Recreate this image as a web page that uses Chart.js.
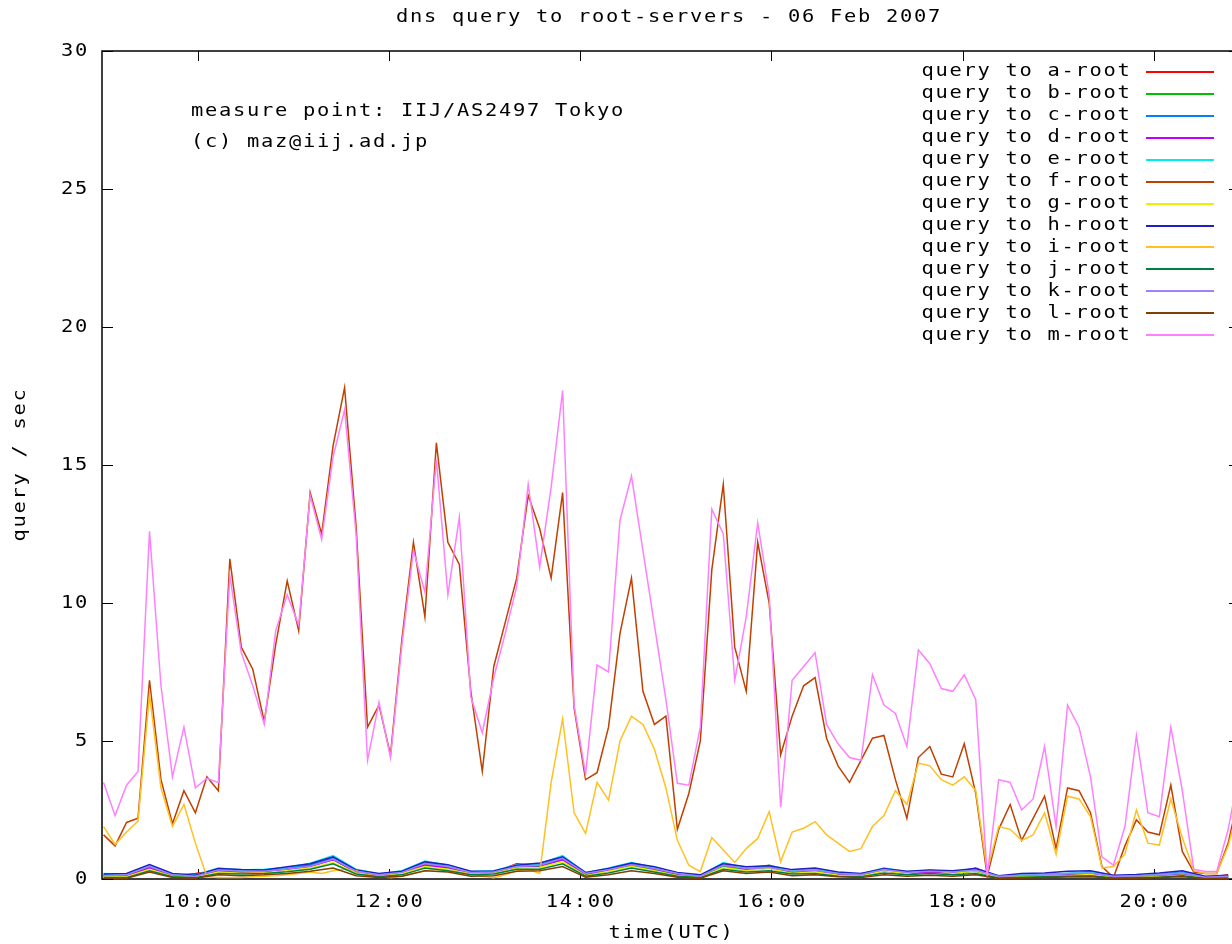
<!DOCTYPE html>
<html>
<head>
<meta charset="utf-8">
<title>dns query to root-servers</title>
<script src="https://cdn.jsdelivr.net/npm/chart.js@4"></script>
<style>
  html, body { margin: 0; padding: 0; background: #fff; overflow: hidden; }
  canvas { display: block; }
</style>
</head>
<body>
<canvas id="chart" width="1244" height="944"></canvas>
<script>
// time axis is in minutes after 00:00 UTC
const fineStart = 541;     // first sample ~09:01
const fineStep = 7.2;      // 100 samples over the day window
const coarseStep = 14.4;   // small series read every other sample

const timeTickMinutes = [600, 720, 840, 960, 1080, 1200];
const timeTickLabels = ["10:00", "12:00", "14:00", "16:00", "18:00", "20:00"];
const rateTicks = [0, 5, 10, 15, 20, 25, 30];

// the three busy servers, one value per 7.2 min sample
const mRoot = [
  3.5, 2.3, 3.4, 3.9, 12.6, 7.0, 3.7, 5.5, 3.3, 3.65,
  3.5, 11.0, 8.2, 7.0, 5.6, 9.0, 10.3, 9.2, 13.9, 12.3,
  15.3, 17.0, 12.5, 4.3, 6.4, 4.4, 8.5, 11.9, 10.4, 15.2,
  10.3, 13.1, 6.6, 5.3, 7.3, 8.9, 10.6, 14.3, 11.3, 14.2,
  17.7, 6.3, 3.8, 7.75, 7.5, 13.0, 14.6, 11.9, 9.2, 6.5,
  3.47, 3.4, 5.5, 13.4, 12.5, 7.2, 9.5, 12.9, 10.3, 2.6,
  7.2, 7.7, 8.2, 5.6, 4.9, 4.4, 4.3, 7.4, 6.3, 6.0,
  4.8, 8.3, 7.8, 6.9, 6.8, 7.4, 6.5, 0.1, 3.6, 3.5,
  2.5, 2.9, 4.8, 1.9, 6.3, 5.5, 3.7, 0.8, 0.5, 1.9,
  5.2, 2.4, 2.26, 5.5, 3.2, 0.35, 0.27, 0.27, 1.8, 4.0
];
const fRoot = [
  1.6, 1.2, 2.05, 2.2, 7.2, 3.6, 2.0, 3.2, 2.4, 3.7,
  3.2, 11.6, 8.4, 7.6, 5.7, 8.5, 10.8, 9.0, 14.0, 12.5,
  15.7, 17.8, 12.8, 5.5, 6.3, 4.5, 8.7, 12.2, 9.5, 15.8,
  12.2, 11.4, 6.8, 3.9, 7.7, 9.3, 10.9, 13.9, 12.7, 10.9,
  14.0, 6.2, 3.6, 3.85, 5.5, 8.9, 10.9, 6.8, 5.6, 5.9,
  1.8, 3.1, 5.0, 11.2, 14.3, 8.4, 6.8, 12.2, 10.0, 4.5,
  5.9, 7.0, 7.3, 5.1, 4.1, 3.5, 4.3, 5.1, 5.2, 3.6,
  2.2, 4.4, 4.8, 3.8, 3.7, 4.9, 3.1, 0.1, 1.8, 2.7,
  1.4, 2.2, 3.0, 1.1, 3.3, 3.2, 2.4, 0.45, 0.05, 1.2,
  2.14, 1.7, 1.6, 3.4, 1.0, 0.25, 0.2, 0.2, 1.3, 3.2
];
const iRoot = [
  1.9, 1.25, 1.7, 2.1, 6.7, 3.3, 1.9, 2.7, 1.3, 0.08,
  0.05, 0.05, 0.05, 0.08, 0.1, 0.12, 0.15, 0.2, 0.25, 0.2,
  0.3, 0.35, 0.3, 0.15, 0.1, 0.05, 0.1, 0.2, 0.3, 0.35,
  0.3, 0.25, 0.2, 0.1, 0.05, 0.15, 0.3, 0.35, 0.2, 3.5,
  5.8, 2.4, 1.65, 3.5, 2.86, 5.0, 5.9, 5.6, 4.7, 3.3,
  1.4, 0.5, 0.27, 1.5, 1.05, 0.6, 1.1, 1.47, 2.44, 0.63,
  1.7, 1.84, 2.08, 1.6, 1.3, 1.0, 1.1, 1.9, 2.3, 3.2,
  2.7, 4.2, 4.1, 3.6, 3.4, 3.7, 3.2, 0.3, 1.9, 1.8,
  1.4, 1.6, 2.4, 0.9, 3.0, 2.9, 2.26, 0.4, 0.45, 0.9,
  2.5, 1.3, 1.23, 2.9, 1.5, 0.3, 0.2, 0.2, 1.2, 2.8
];

// the quiet servers, one value per 14.4 min
const aRoot = [0.12,0.1,0.42,0.12,0.2,0.3,0.25,0.26,0.38,0.55,0.72,0.25,0.12,0.22,0.52,0.4,0.2,0.25,0.55,0.5,0.72,0.16,0.3,0.5,0.35,0.16,0.08,0.5,0.35,0.5,0.25,0.3,0.16,0.14,0.3,0.2,0.25,0.22,0.3,0.06,0.1,0.12,0.15,0.2,0.06,0.08,0.1,0.18,0.04,0.15];
const bRoot = [0.1,0.08,0.4,0.12,0.08,0.28,0.25,0.3,0.4,0.5,0.7,0.25,0.12,0.2,0.5,0.4,0.22,0.22,0.42,0.45,0.7,0.15,0.3,0.5,0.32,0.15,0.12,0.45,0.32,0.4,0.24,0.28,0.15,0.12,0.3,0.22,0.3,0.22,0.28,0.06,0.1,0.12,0.14,0.18,0.06,0.08,0.1,0.15,0.04,0.06];
const cRoot = [0.15,0.18,0.48,0.17,0.12,0.36,0.3,0.3,0.4,0.5,0.78,0.3,0.17,0.26,0.58,0.48,0.26,0.27,0.48,0.52,0.78,0.2,0.36,0.55,0.4,0.2,0.12,0.55,0.42,0.45,0.3,0.34,0.2,0.17,0.36,0.25,0.3,0.25,0.33,0.1,0.15,0.16,0.2,0.25,0.1,0.12,0.16,0.25,0.07,0.1];
const dRoot = [0.1,0.12,0.4,0.14,0.1,0.3,0.26,0.28,0.35,0.45,0.7,0.26,0.14,0.22,0.5,0.42,0.22,0.24,0.45,0.48,0.7,0.18,0.32,0.55,0.36,0.18,0.1,0.52,0.36,0.46,0.26,0.3,0.18,0.2,0.32,0.22,0.26,0.24,0.4,0.08,0.12,0.14,0.18,0.2,0.08,0.1,0.12,0.2,0.05,0.08];
const eRoot = [0.2,0.17,0.5,0.18,0.15,0.4,0.33,0.35,0.42,0.57,0.85,0.35,0.18,0.3,0.65,0.5,0.27,0.3,0.52,0.55,0.85,0.22,0.4,0.6,0.42,0.22,0.13,0.6,0.4,0.5,0.3,0.36,0.22,0.18,0.4,0.26,0.3,0.28,0.36,0.1,0.17,0.15,0.2,0.25,0.12,0.12,0.15,0.22,0.08,0.1];
const gRoot = [0.08,0.08,0.35,0.1,0.06,0.25,0.2,0.22,0.3,0.4,0.6,0.22,0.1,0.2,0.45,0.35,0.18,0.22,0.4,0.42,0.62,0.12,0.28,0.45,0.3,0.12,0.06,0.42,0.3,0.38,0.2,0.26,0.14,0.1,0.3,0.2,0.34,0.2,0.3,0.05,0.08,0.1,0.12,0.16,0.05,0.06,0.08,0.14,0.03,0.05];
const hRoot = [0.18,0.2,0.52,0.2,0.14,0.38,0.34,0.33,0.44,0.55,0.8,0.33,0.2,0.28,0.62,0.52,0.28,0.29,0.5,0.58,0.8,0.24,0.38,0.58,0.44,0.24,0.15,0.56,0.44,0.48,0.34,0.4,0.25,0.2,0.38,0.28,0.33,0.3,0.38,0.12,0.2,0.22,0.28,0.3,0.14,0.16,0.22,0.3,0.1,0.14];
const jRoot = [0.05,0.05,0.3,0.08,0.05,0.2,0.18,0.2,0.26,0.35,0.55,0.18,0.08,0.15,0.4,0.3,0.15,0.18,0.35,0.35,0.55,0.1,0.22,0.4,0.25,0.1,0.05,0.35,0.25,0.3,0.18,0.2,0.1,0.08,0.22,0.15,0.2,0.15,0.2,0.04,0.06,0.08,0.1,0.12,0.04,0.05,0.06,0.12,0.02,0.04];
const kRoot = [0.12,0.15,0.46,0.15,0.1,0.33,0.28,0.28,0.36,0.46,0.72,0.28,0.15,0.24,0.56,0.45,0.24,0.25,0.45,0.5,0.75,0.2,0.34,0.52,0.38,0.2,0.1,0.5,0.38,0.42,0.28,0.32,0.2,0.16,0.34,0.24,0.28,0.25,0.32,0.1,0.14,0.15,0.2,0.22,0.1,0.12,0.15,0.22,0.06,0.1];
const lRoot = [0.03,0.03,0.25,0.05,0.03,0.15,0.12,0.15,0.2,0.28,0.4,0.12,0.05,0.1,0.3,0.25,0.1,0.12,0.28,0.3,0.45,0.06,0.15,0.3,0.2,0.06,0.03,0.3,0.2,0.25,0.12,0.15,0.08,0.05,0.15,0.1,0.14,0.1,0.15,0.02,0.04,0.05,0.07,0.08,0.03,0.03,0.05,0.08,0.02,0.03];

const seriesList = [
  ["query to a-root", "#ff0000", aRoot, coarseStep],
  ["query to b-root", "#00c000", bRoot, coarseStep],
  ["query to c-root", "#0080ff", cRoot, coarseStep],
  ["query to d-root", "#c000ff", dRoot, coarseStep],
  ["query to e-root", "#00eeee", eRoot, coarseStep],
  ["query to f-root", "#c04000", fRoot, fineStep],
  ["query to g-root", "#eeee00", gRoot, coarseStep],
  ["query to h-root", "#2020c0", hRoot, coarseStep],
  ["query to i-root", "#ffc020", iRoot, fineStep],
  ["query to j-root", "#008040", jRoot, coarseStep],
  ["query to k-root", "#a080ff", kRoot, coarseStep],
  ["query to l-root", "#804000", lRoot, coarseStep],
  ["query to m-root", "#ff80ff", mRoot, fineStep],
];

const FONT = '17px "DejaVu Sans Mono", "Liberation Mono", monospace';
const ADV = 14;

// gnuplot's bitmap font is wide, so each glyph goes into its own 14px cell
function monoText(ctx, str, x, y) {
  for (let n = 0; n < str.length; n++) {
    ctx.save();
    ctx.translate(x + n * ADV, y);
    ctx.scale(1.2, 1);
    ctx.fillText(str[n], 0, 0);
    ctx.restore();
  }
}
function monoWidth(str) {
  return (str.length - 1) * ADV + 11;
}

const gnuplotFrame = {
  id: "gnuplotFrame",
  beforeDatasetsDraw(chart) {
    const { ctx, chartArea: a, scales: { x, y } } = chart;
    ctx.save();
    ctx.strokeStyle = "#000";
    ctx.lineWidth = 1.5;
    ctx.strokeRect(a.left, a.top, a.right - a.left, a.bottom - a.top);
    ctx.lineWidth = 1;
    ctx.beginPath();
    y.ticks.forEach(t => {
      const py = Math.round(y.getPixelForValue(t.value)) + 0.5;
      ctx.moveTo(a.left, py); ctx.lineTo(a.left + 11, py);
      ctx.moveTo(a.right, py); ctx.lineTo(a.right - 11, py);
    });
    x.ticks.forEach(t => {
      const px = Math.round(x.getPixelForValue(t.value)) + 0.5;
      ctx.moveTo(px, a.bottom); ctx.lineTo(px, a.bottom - 10);
      ctx.moveTo(px, a.top); ctx.lineTo(px, a.top + 10);
    });
    ctx.stroke();
    ctx.restore();
  },
  afterDraw(chart) {
    const { ctx, chartArea: a, scales: { x, y } } = chart;
    ctx.save();
    ctx.fillStyle = "#000";
    ctx.font = FONT;
    ctx.textAlign = "left";
    ctx.textBaseline = "middle";

    monoText(ctx, "dns query to root-servers - 06 Feb 2007", 396, 18);
    monoText(ctx, "measure point: IIJ/AS2497 Tokyo", 191, 112);
    monoText(ctx, "(c) maz@iij.ad.jp", 191, 143);

    y.ticks.forEach(t => {
      const s = String(t.value);
      monoText(ctx, s, 86 - monoWidth(s), y.getPixelForValue(t.value) + 1);
    });
    x.ticks.forEach((t, n) => {
      const s = timeTickLabels[n];
      monoText(ctx, s, x.getPixelForValue(t.value) - monoWidth(s) / 2 - 1, 903);
    });
    monoText(ctx, "time(UTC)", 670 - monoWidth("time(UTC)") / 2, 934);

    ctx.save();
    ctx.translate(21, 466);
    ctx.rotate(-Math.PI / 2);
    monoText(ctx, "query / sec", -monoWidth("query / sec") / 2, 0);
    ctx.restore();

    // key: text first, then a line sample, as gnuplot does
    chart.data.datasets.forEach((ds, n) => {
      const ry = 72 + n * 21.93;
      ctx.fillStyle = "#000";
      monoText(ctx, ds.label, 921.5, ry);
      ctx.strokeStyle = ds.borderColor;
      ctx.lineWidth = 2;
      ctx.beginPath();
      ctx.moveTo(1146, Math.round(ry));
      ctx.lineTo(1214, Math.round(ry));
      ctx.stroke();
    });
    ctx.restore();
  }
};

const datasets = seriesList.map(([label, color, values, step], n) => ({
  label: label,
  data: values.map((v, k) => ({ x: fineStart + k * step, y: v })),
  borderColor: color,
  backgroundColor: color,
  borderWidth: 1.5,
  pointRadius: 0,
  fill: false,
  tension: 0,
  order: seriesList.length - n, // a-root drawn first, m-root on top
}));

new Chart(document.getElementById("chart"), {
  type: "line",
  data: { datasets: datasets },
  options: {
    responsive: false,
    animation: false,
    devicePixelRatio: 1,
    layout: { padding: { top: 51, right: 4, left: 0, bottom: 0 } },
    plugins: {
      legend: { display: false },
      title: { display: false },
      tooltip: { enabled: false },
    },
    scales: {
      x: {
        type: "linear",
        min: 540,
        max: 1254,
        grid: { display: false },
        border: { display: false },
        ticks: { display: false },
        afterBuildTicks: s => { s.ticks = timeTickMinutes.map(v => ({ value: v })); },
        afterFit: s => { s.height = 65; },
      },
      y: {
        min: 0,
        max: 30,
        grid: { display: false },
        border: { display: false },
        ticks: { display: false },
        afterBuildTicks: s => { s.ticks = rateTicks.map(v => ({ value: v })); },
        afterFit: s => { s.width = 102; },
      },
    },
  },
  plugins: [gnuplotFrame],
});
</script>
</body>
</html>
